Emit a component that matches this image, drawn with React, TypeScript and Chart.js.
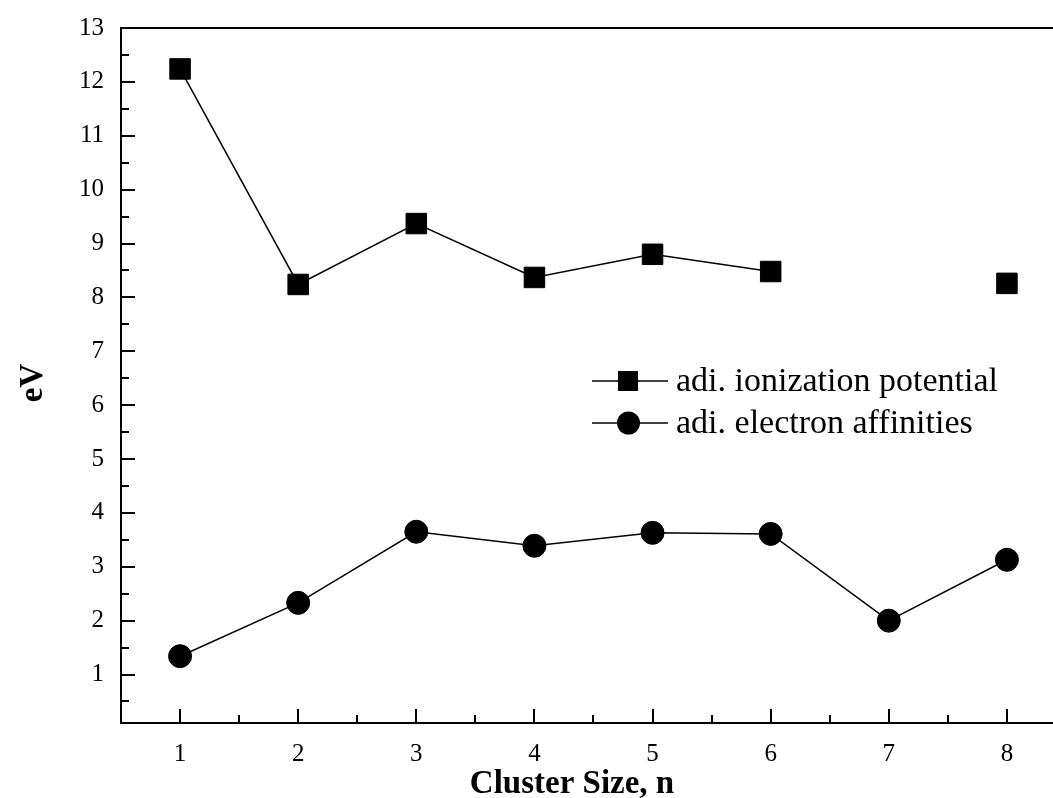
import React, { useEffect, useRef } from "react";
import { Chart, registerables } from "chart.js";

Chart.register(...registerables);

const clusterSizes = [1, 2, 3, 4, 5, 6, 7, 8];
const ionizationPotential = [12.24, 8.24, 9.37, 8.37, 8.8, 8.48, null, 8.26];
const electronAffinities = [1.34, 2.33, 3.65, 3.39, 3.63, 3.61, 2.0, 3.13];
const xTicks = [1, 2, 3, 4, 5, 6, 7, 8];
const xMinorTicks = [0.5, 1.5, 2.5, 3.5, 4.5, 5.5, 6.5, 7.5];
const yTicks = [1, 2, 3, 4, 5, 6, 7, 8, 9, 10, 11, 12, 13];
const yMinorTicks = [0.5, 1.5, 2.5, 3.5, 4.5, 5.5, 6.5, 7.5, 8.5, 9.5, 10.5, 11.5, 12.5];
const seriesLabels = ["adi. ionization potential", "adi. electron affinities"];
const xTitle = "Cluster Size, n";
const yTitle = "eV";

const SERIF = "'Liberation Serif', 'Times New Roman', serif";

const decorPlugin = {
  id: "decor",
  afterDraw(chart: any) {
    const ctx = chart.ctx;
    const area = chart.chartArea;
    const xs = chart.scales.x;
    const ys = chart.scales.y;
    ctx.save();
    ctx.strokeStyle = "#000";
    ctx.lineWidth = 2;
    ctx.lineCap = "butt";
    // frame: left, bottom, top
    ctx.beginPath();
    ctx.moveTo(area.left, area.top);
    ctx.lineTo(area.left, area.bottom);
    ctx.moveTo(area.left - 1, area.bottom);
    ctx.lineTo(area.right, area.bottom);
    ctx.moveTo(area.left - 1, area.top);
    ctx.lineTo(area.right, area.top);
    ctx.stroke();
    // inward ticks
    ctx.beginPath();
    xTicks.forEach((v) => {
      const px = Math.round(xs.getPixelForValue(v));
      ctx.moveTo(px, area.bottom);
      ctx.lineTo(px, area.bottom - 14);
    });
    xMinorTicks.forEach((v) => {
      if (v <= xs.min) return;
      const px = Math.round(xs.getPixelForValue(v));
      ctx.moveTo(px, area.bottom);
      ctx.lineTo(px, area.bottom - 8);
    });
    yTicks.forEach((v) => {
      const py = Math.round(ys.getPixelForValue(v));
      ctx.moveTo(area.left, py);
      ctx.lineTo(area.left + 14, py);
    });
    yMinorTicks.forEach((v) => {
      const py = Math.round(ys.getPixelForValue(v));
      ctx.moveTo(area.left, py);
      ctx.lineTo(area.left + 8, py);
    });
    ctx.stroke();

    // axis titles
    ctx.fillStyle = "#000";
    ctx.font = `bold 33px ${SERIF}`;
    ctx.textAlign = "center";
    ctx.textBaseline = "alphabetic";
    ctx.fillText(xTitle, 572, 793);
    ctx.save();
    ctx.translate(42, 383);
    ctx.rotate(-Math.PI / 2);
    ctx.fillText(yTitle, 0, 0);
    ctx.restore();

    // legend
    const items = [
      { y: 381, style: "rect" },
      { y: 423, style: "circle" },
    ];
    items.forEach((it, i) => {
      ctx.strokeStyle = "#000";
      ctx.lineWidth = 1.5;
      ctx.beginPath();
      ctx.moveTo(592, it.y);
      ctx.lineTo(668, it.y);
      ctx.stroke();
      ctx.fillStyle = "#000";
      if (it.style === "rect") {
        ctx.fillRect(618, it.y - 10, 20, 20);
      } else {
        ctx.beginPath();
        ctx.arc(628.5, it.y, 11.5, 0, Math.PI * 2);
        ctx.fill();
      }
      ctx.font = `34px ${SERIF}`;
      ctx.textAlign = "left";
      ctx.textBaseline = "middle";
      ctx.fillText(seriesLabels[i], 676, it.y + 1);
    });
    ctx.restore();
  },
};

export default function App() {
  const canvasRef = useRef<HTMLCanvasElement | null>(null);

  useEffect(() => {
    document.body.style.margin = "0";
    const canvas = canvasRef.current;
    if (!canvas) return;
    const chart = new Chart(canvas, {
      type: "line",
      data: {
        labels: clusterSizes,
        datasets: [
          {
            label: seriesLabels[0],
            data: clusterSizes.map((x, i) => ({ x, y: ionizationPotential[i] })),
            borderColor: "#000",
            backgroundColor: "#000",
            borderWidth: 1.5,
            pointStyle: "rect",
            pointRadius: 14.5,
            pointBorderWidth: 1,
            spanGaps: false,
            tension: 0,
          },
          {
            label: seriesLabels[1],
            data: clusterSizes.map((x, i) => ({ x, y: electronAffinities[i] })),
            borderColor: "#000",
            backgroundColor: "#000",
            borderWidth: 1.5,
            pointStyle: "circle",
            pointRadius: 11.5,
            pointBorderWidth: 1,
            tension: 0,
          },
        ],
      },
      options: {
        responsive: false,
        animation: false,
        layout: { autoPadding: false, padding: { top: 28, right: 0, left: 0, bottom: 0 } },
        plugins: {
          legend: { display: false },
          tooltip: { enabled: false },
        },
        scales: {
          x: {
            type: "linear",
            min: 0.5,
            max: 8.39,
            grid: { display: false, drawTicks: false },
            border: { display: false },
            afterBuildTicks: (scale: any) => {
              scale.ticks = xTicks.map((v) => ({ value: v }));
            },
            afterFit: (scale: any) => {
              scale.height = 75;
              scale.paddingLeft = 0;
              scale.paddingRight = 0;
            },
            ticks: {
              padding: 16,
              color: "#000",
              font: { family: SERIF, size: 25 },
              maxRotation: 0,
              autoSkip: false,
            },
          },
          y: {
            type: "linear",
            min: 0.1,
            max: 13,
            grid: { display: false, drawTicks: false },
            border: { display: false },
            afterBuildTicks: (scale: any) => {
              scale.ticks = yTicks.map((v) => ({ value: v }));
            },
            afterFit: (scale: any) => {
              scale.width = 121;
              scale.paddingTop = 0;
              scale.paddingBottom = 0;
            },
            ticks: {
              padding: 17,
              color: "#000",
              font: { family: SERIF, size: 25 },
              autoSkip: false,
            },
          },
        },
      },
      plugins: [decorPlugin],
    } as any);
    return () => chart.destroy();
  }, []);

  return (
    <div style={{ position: "fixed", left: 0, top: 0, width: 1053, height: 798, background: "#fff" }}>
      <canvas ref={canvasRef} width={1053} height={798} style={{ display: "block" }} />
    </div>
  );
}
